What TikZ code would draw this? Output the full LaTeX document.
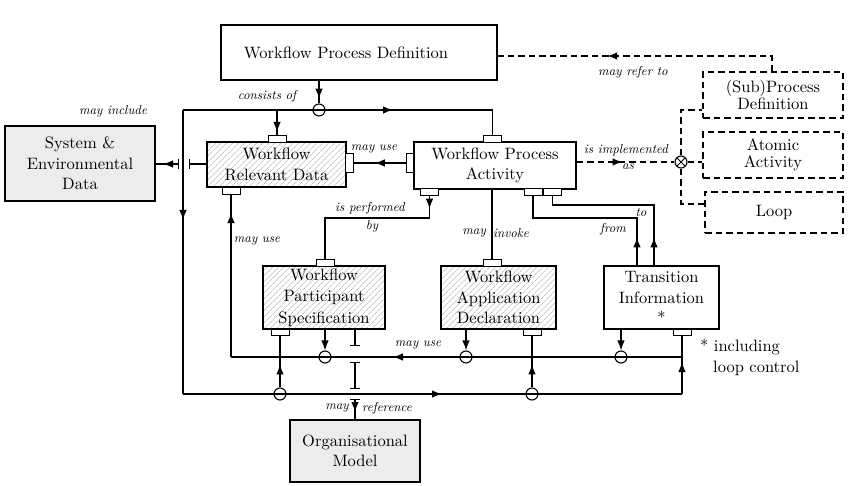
\documentclass[tikz,border=0pt]{standalone}
\DeclareFontFamily{TU}{lmten}{}
\DeclareFontShape{TU}{lmten}{m}{n}{<-> \UnicodeFontFile{lmroman10-regular}{\UnicodeFontTeXLigatures}}{}
\DeclareFontShape{TU}{lmten}{m}{it}{<-> \UnicodeFontFile{lmroman10-italic}{\UnicodeFontTeXLigatures}}{}
\renewcommand\rmdefault{lmten}
\usetikzlibrary{arrows.meta,decorations.markings,patterns.meta,calc}
\definecolor{boxgrey}{RGB}{236,236,236}
\definecolor{hatchgrey}{RGB}{165,165,165}
\newcommand\boxfont{\fontsize{16.5}{20.5}\selectfont}
\newcommand\boxfontb{\fontsize{16.5}{21.5}\selectfont}
\newcommand\boxfontc{\fontsize{16.5}{17.5}\selectfont}
\newcommand\lblfont{\fontsize{12.9}{15}\selectfont\itshape}
\tikzset{
  >={Latex[length=10pt,width=7.5pt]},
  box/.style={draw, line width=1.3pt, inner sep=0pt, align=center, font=\boxfont},
  greybox/.style={box, fill=boxgrey},
  hatchbox/.style={box, pattern={Lines[angle=45,distance=4pt,line width=0.5pt]}, pattern color=hatchgrey},
  dbox/.style={box, line width=1.7pt, dash pattern=on 6.5pt off 4pt},
  port/.style={draw, fill=white, line width=1pt, inner sep=0pt, minimum width=18pt, minimum height=6.5pt},
  vport/.style={port, minimum width=7.5pt, minimum height=19pt},
  junc/.style={circle, draw, line width=1.1pt, inner sep=0pt, minimum size=12pt},
  conn/.style={line width=1.3pt},
  dconn/.style={line width=1.9pt, dash pattern=on 6.5pt off 4pt},
  lbl/.style={font=\lblfont, inner sep=0pt},
  arrat/.style={postaction={decorate}, decoration={markings, mark=at position #1 with {\arrow{>}}}},
  barend/.tip={Bar[width=10pt]}
}
\begin{document}
\begin{tikzpicture}[x=1pt,y=-1pt]
\useasboundingbox (0,0) rectangle (850,486);

% main boxes
\node[box, minimum width=276pt, minimum height=55pt] (wpd) at (359,52.5) {\hspace*{-26pt}Workflow Process Definition};
\node[greybox, minimum width=150pt, minimum height=75pt] (sys) at (80,163.5) {System \&\\Environmental\\Data};
\node[hatchbox, minimum width=139pt, minimum height=45pt] (wrd) at (276.5,164.5) {Workflow\\Relevant Data};
\node[box, minimum width=162pt, minimum height=47pt] (wpa) at (495,165.5) {Workflow Process\\Activity};
\node[hatchbox, font=\boxfontb, minimum width=122pt, minimum height=63pt] (wps) at (324,297.5) {Workflow\\Participant\\Specification};
\node[hatchbox, minimum width=115pt, minimum height=63pt] (wad) at (498.5,297.5) {Workflow\\Application\\Declaration};
\node[box, minimum width=115pt, minimum height=63pt] (ti) at (661.5,297.5) {Transition\\Information\\*};
\node[greybox, minimum width=130pt, minimum height=62pt] (org) at (355,451) {Organisational\\Model};
\node[dbox, font=\boxfontc, minimum width=140pt, minimum height=46pt] (sub) at (773,95) {(Sub)Process\\Definition};
\node[dbox, font=\boxfontc, minimum width=140pt, minimum height=46pt] (atom) at (773,155) {Atomic\\Activity};
\node[dbox, minimum width=138pt, minimum height=41pt] (loop) at (774,212.5) {Loop};

% ports
\node[port] (wrdT) at (277,139) {};
\node[vport] (wrdR) at (349.5,163) {};
\node[port] (wrdB) at (231,191) {};
\node[port] (wpaT) at (492.5,139) {};
\node[vport] (wpaL) at (410,163) {};
\node[port] (wpaB1) at (429.5,192) {};
\node[port] (wpaB2) at (533,192) {};
\node[port] (wpaB3) at (552.5,192) {};
\node[port] (wpsT) at (325,263) {};
\node[port] (wpsB) at (280,332.5) {};
\node[port] (wadT) at (492,263) {};
\node[port] (wadB) at (532,332.5) {};
\node[port] (tiB) at (682,332.5) {};

% junctions
\node[junc] (j0) at (319,110) {};
\node[junc] (jm1) at (325,357) {};
\node[junc] (jm2) at (466,357) {};
\node[junc] (jm3) at (621,357) {};
\node[junc] (jb1) at (280,394) {};
\node[junc] (jb2) at (532,394) {};
\node[junc, path picture={\draw[line width=0.9pt] (path picture bounding box.north west) -- (path picture bounding box.south east) (path picture bounding box.north east) -- (path picture bounding box.south west);}] (jx) at (681,162) {};

% coordinates
\coordinate (tl) at (183,110);
\coordinate (bl) at (183,394);
\coordinate (br) at (682,394);
\coordinate (mr) at (682,357);
\coordinate (x1) at (189,164);
\coordinate (x2) at (179,164);
\coordinate (r1) at (355,346);
\coordinate (r2) at (355,362);
\coordinate (r3) at (355,389);
\coordinate (r4) at (355,399);
\coordinate (pb) at (325,218);
\coordinate (t1) at (637,218);
\coordinate (t2) at (654,205);
\coordinate (rf) at (772,56);
\coordinate (bt) at (681,110);
\coordinate (bb) at (681,204);

% top loop
\draw[conn, arrat=18pt] (wpd.south -| j0) -- (j0.north);
\draw[conn, arrat=210pt] (tl) -- (tl -| wpaT) -- (wpaT.north);
\draw[conn, arrat=22pt] (tl -| wrdT) -- (wrdT.north);
\draw[conn, arrat=110pt] (tl) -- (bl);
\draw[conn, arrat=259pt] (bl) -- (br);
\draw[conn, arrat=32pt] (br) -- (tiB.south);

% middle line
\draw[conn, arrat=289pt] (mr) -- (mr -| wrdB);
\draw[conn, arrat=144pt] (mr -| wrdB) -- (wrdB.south);
\draw[conn, ->] (wps.south -| jm1) -- (jm1.north);
\draw[conn, ->] (wad.south -| jm2) -- (jm2.north);
\draw[conn, ->] (ti.south -| jm3) -- (jm3.north);
\draw[conn, arrat=23pt] (jb1.north) -- (wpsB.south);
\draw[conn, arrat=23pt] (jb2.north) -- (wadB.south);

% may reference
\draw[conn, -barend] (wps.south -| r1) -- (r1);
\draw[conn, barend-barend] (r2) -- (r3);
\draw[conn, barend-, arrat=13pt] (r4) -- (org.north -| r4);

% left crossing to system data
\draw[conn, -barend] (wrd.west |- x1) -- (x1);
\draw[conn, barend-, arrat=16pt] (x2) -- (sys.east |- x2);

% may use (activity -> relevant data)
\draw[conn, arrat=31pt] (wpaL.west) -- (wrdR.east);

% is performed by
\draw[conn, arrat=13pt] (wpaB1.south) -- (wpaB1.south |- pb) -- (pb) -- (wpsT.north);

% may invoke
\draw[conn] (wpa.south -| wadT) -- (wadT.north);

% transitions
\draw[conn, arrat=28pt] (ti.north -| t1) -- (t1) -- (t1 -| wpaB2) -- (wpaB2.south);
\draw[conn, arrat=28pt] (ti.north -| t2) -- (t2) -- (t2 -| wpaB3) -- (wpaB3.south);

% dashed connectors
\draw[dconn, arrat=46pt] (wpa.east |- jx) -- (jx.west);
\draw[dconn, arrat=180pt] (sub.north -| rf) -- (rf) -- (wpd.east |- rf);
\draw[dconn] (jx.north) -- (bt) -- (sub.west |- bt);
\draw[dconn] (jx.east) -- (atom.west |- jx);
\draw[dconn] (jx.south) -- (bb) -- (loop.west |- bb);

% labels
\node[lbl] at (113,111) {may include};
\node[lbl] at (267,96) {consists of};
\node[lbl] at (374,149) {may use};
\node[lbl] at (626,150) {is implemented};
\node[lbl] at (628,167) {as};
\node[lbl] at (633,72) {may refer to};
\node[lbl] at (370,208) {is performed};
\node[lbl] at (372,226) {by};
\node[lbl, anchor=east] at (486,233) {may};
\node[lbl, anchor=west] at (493,233) {invoke};
\node[lbl] at (613,229) {from};
\node[lbl] at (641,213) {to};
\node[lbl] at (257,241) {may use};
\node[lbl] at (418,345) {may use};
\node[lbl] at (337,408) {may};
\node[lbl] at (387,408) {reference};
\node[font=\boxfont, inner sep=0pt, anchor=west] at (700,347) {* including};
\node[font=\boxfont, inner sep=0pt, anchor=west] at (713,368) {loop control};
\end{tikzpicture}
\end{document}
